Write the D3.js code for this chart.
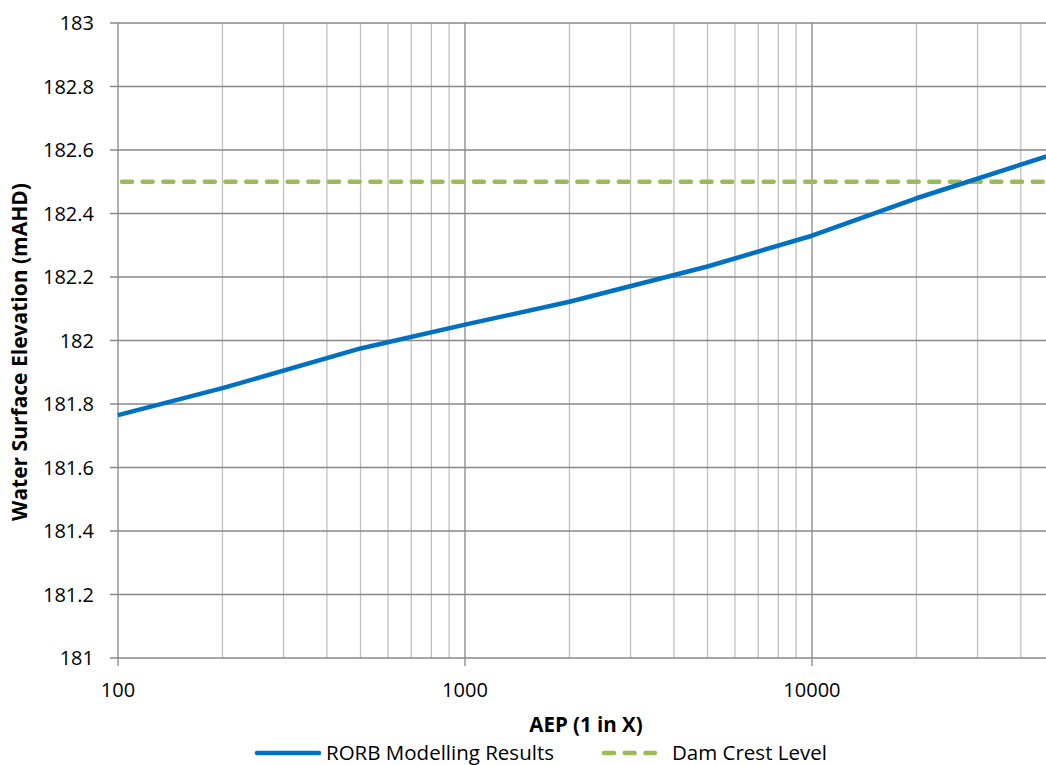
<!DOCTYPE html>
<html>
<head>
<meta charset="utf-8">
<script src="https://cdn.jsdelivr.net/npm/d3@7"></script>
<style>
  body { margin: 0; background: #fff; }
  svg { display: block; font-family: "Open Sans", sans-serif; }
</style>
</head>
<body>
<svg id="chart" width="1046" height="765"></svg>
<script>
// AEP (1 in X) and modelled water surface elevation
const aep = [100, 200, 500, 1000, 2000, 5000, 10000, 20000, 50000];
const rorbLevels = [181.765, 181.85, 181.975, 182.05, 182.122, 182.233, 182.33, 182.448, 182.588];
const damCrestLevel = 182.5;
const yTicks = [181, 181.2, 181.4, 181.6, 181.8, 182, 182.2, 182.4, 182.6, 182.8, 183];
const xLabelTicks = [100, 1000, 10000];

const svg = d3.select("#chart");
const margin = { top: 23, left: 118, bottom: 107 };
const height = 765 - margin.top - margin.bottom;

// the chart is cut at the right edge, 50000 sits just past the frame
const x = d3.scaleLog().domain([100, 50000]).range([margin.left, 1054.5]);
const y = d3.scaleLinear().domain([181, 183]).range([margin.top + height, margin.top]);

const g = svg.append("g");

// minor vertical gridlines (2..9 of each decade)
const minor = [];
for (let d = 100; d <= 10000; d *= 10) {
    for (let k = 2; k <= 9; k++) {
        if (d * k <= 50000) minor.push(d * k);
    }
}
g.append("g").selectAll("line")
    .data(minor)
    .join("line")
    .attr("x1", d => x(d)).attr("x2", d => x(d))
    .attr("y1", y(183)).attr("y2", y(181))
    .attr("stroke", "#c0c0c0").attr("stroke-width", 1.3);

// horizontal gridlines
g.append("g").selectAll("line")
    .data(yTicks)
    .join("line")
    .attr("x1", margin.left - 8).attr("x2", 1046)
    .attr("y1", d => y(d)).attr("y2", d => y(d))
    .attr("stroke", "#888").attr("stroke-width", 1.3);

// major vertical gridlines with ticks below the axis
g.append("g").selectAll("line")
    .data(xLabelTicks)
    .join("line")
    .attr("x1", d => x(d)).attr("x2", d => x(d))
    .attr("y1", y(183)).attr("y2", y(181) + 8)
    .attr("stroke", "#888").attr("stroke-width", 1.3);

// y tick labels
g.append("g").selectAll("text")
    .data(yTicks)
    .join("text")
    .attr("x", 94).attr("y", d => y(d))
    .attr("dy", "0.35em")
    .attr("text-anchor", "end")
    .attr("font-size", 20)
    .attr("fill", "#000")
    .text(d => d3.format("~g")(d));

// x tick labels
g.append("g").selectAll("text")
    .data(xLabelTicks)
    .join("text")
    .attr("x", d => x(d)).attr("y", 690)
    .attr("dy", "0.35em")
    .attr("text-anchor", "middle")
    .attr("font-size", 20)
    .attr("fill", "#000")
    .text(d => d);

// dam crest level
g.append("line")
    .attr("x1", margin.left + 4).attr("x2", 1046)
    .attr("y1", y(damCrestLevel)).attr("y2", y(damCrestLevel))
    .attr("stroke", "#9bbb59").attr("stroke-width", 4.5)
    .attr("stroke-linecap", "round")
    .attr("stroke-dasharray", "10,10.7");

// RORB results
const line = d3.line().x(d => x(d[0])).y(d => y(d[1]));
g.append("path")
    .datum(aep.map((a, i) => [a, rorbLevels[i]]))
    .attr("d", line)
    .attr("fill", "none")
    .attr("stroke", "#0070c0")
    .attr("stroke-width", 4.5)
    .attr("stroke-linejoin", "round");

// axis titles
svg.append("text")
    .attr("x", 586).attr("y", 725).attr("dy", "0.35em")
    .attr("text-anchor", "middle")
    .attr("font-size", 20.5).attr("font-weight", "bold")
    .text("AEP (1 in X)");

svg.append("text")
    .attr("transform", "translate(20,352) rotate(-90)")
    .attr("dy", "0.35em")
    .attr("text-anchor", "middle")
    .attr("font-size", 21).attr("font-weight", "bold")
    .text("Water Surface Elevation (mAHD)");

// legend
const legend = svg.append("g").attr("font-size", 20.5);
legend.append("line")
    .attr("x1", 257).attr("x2", 319).attr("y1", 753).attr("y2", 753)
    .attr("stroke", "#0070c0").attr("stroke-width", 4.5).attr("stroke-linecap", "round");
legend.append("text")
    .attr("x", 326).attr("y", 753).attr("dy", "0.35em")
    .text("RORB Modelling Results");
legend.append("line")
    .attr("x1", 604).attr("x2", 655).attr("y1", 753).attr("y2", 753)
    .attr("stroke", "#9bbb59").attr("stroke-width", 4.5).attr("stroke-linecap", "round")
    .attr("stroke-dasharray", "10,10.7");
legend.append("text")
    .attr("x", 672).attr("y", 753).attr("dy", "0.35em")
    .text("Dam Crest Level");
</script>
</body>
</html>
